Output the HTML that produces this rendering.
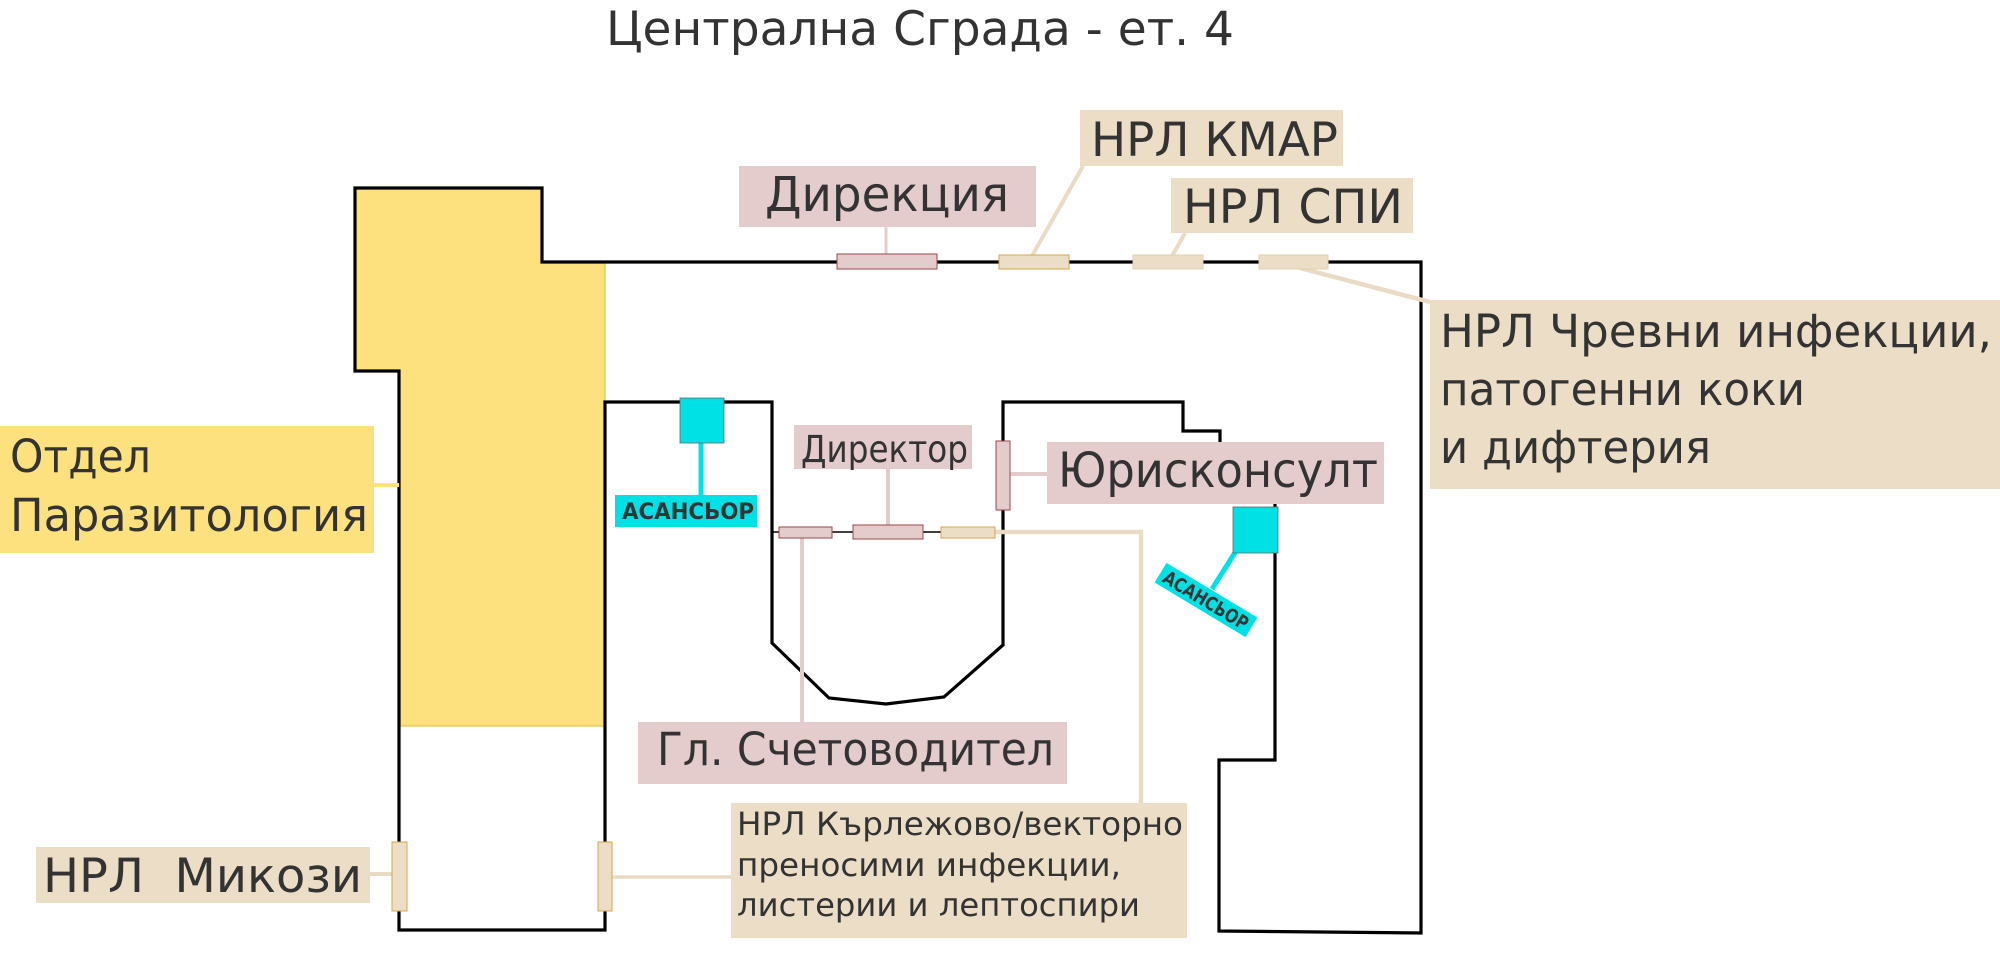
<!DOCTYPE html>
<html>
<head>
<meta charset="utf-8">
<style>
html,body{margin:0;padding:0;background:#fff;}
svg{display:block;}
text{font-family:"DejaVu Sans","Liberation Sans",sans-serif;fill:#333333;}
</style>
</head>
<body>
<svg width="2000" height="967" viewBox="0 0 2000 967" xmlns="http://www.w3.org/2000/svg">
<rect x="0" y="0" width="2000" height="967" fill="#ffffff"/>

<!-- Title -->
<text x="606" y="45" font-size="47" textLength="628" lengthAdjust="spacingAndGlyphs">Централна Сграда - ет. 4</text>

<!-- Yellow area -->
<polygon points="355,188 542,188 542,262 605,262 605,726 399,726 399,371 355,371" fill="#fde17f"/>
<line x1="605" y1="262" x2="605" y2="402" stroke="#e2c64a" stroke-width="1.2"/>
<line x1="399" y1="726" x2="605" y2="726" stroke="#e2c64a" stroke-width="1.2"/>

<!-- Walls -->
<path d="M355,188 L542,188 L542,262 L1421,262 L1421,933 L1219,931 L1219,760 L1275,760 L1275,480 L1220,480 L1220,431 L1183,431 L1183,402 L1003,402 L1003,645 L944,697 L886,704 L829,698 L772,643 L772,402 L605,402 L605,930 L399,930 L399,371 L355,371 Z" fill="none" stroke="#000" stroke-width="3.2" stroke-linejoin="miter"/>

<!-- inner thin line -->
<line x1="772" y1="532" x2="1003" y2="532" stroke="#000" stroke-width="1.5"/>

<!-- Connectors -->
<line x1="886" y1="227" x2="886" y2="254" stroke="#e4cbcc" stroke-width="3"/>
<line x1="1032" y1="256" x2="1083" y2="166" stroke="#eadcc4" stroke-width="4"/>
<line x1="1172" y1="256" x2="1185" y2="233" stroke="#eadcc4" stroke-width="4"/>
<line x1="1300" y1="268" x2="1430" y2="302" stroke="#eadcc4" stroke-width="4.5"/>
<line x1="888" y1="469" x2="888" y2="525" stroke="#e4cbcc" stroke-width="4"/>
<line x1="1010" y1="474" x2="1047" y2="474" stroke="#e4cbcc" stroke-width="4"/>
<line x1="802" y1="538" x2="802" y2="722" stroke="#e4cbcc" stroke-width="4"/>
<polyline points="995,532 1141,532 1141,803" fill="none" stroke="#eadcc4" stroke-width="4.5"/>
<line x1="374" y1="485" x2="399" y2="485" stroke="#fde17f" stroke-width="4"/>
<line x1="370" y1="874" x2="392" y2="874" stroke="#eadcc4" stroke-width="4"/>
<line x1="612" y1="877" x2="731" y2="877" stroke="#eadcc4" stroke-width="3.5"/>
<line x1="701" y1="443" x2="701" y2="495" stroke="#00e1e6" stroke-width="5"/>
<line x1="1236" y1="551" x2="1212" y2="589" stroke="#00e1e6" stroke-width="5"/>

<!-- Doors -->
<rect x="837" y="254" width="100" height="15" fill="#e4cbcc" stroke="#9b4a4a" stroke-width="1"/>
<rect x="999" y="255" width="70" height="14" fill="#ecdec6" stroke="#d9a54a" stroke-width="1"/>
<rect x="1133" y="255" width="70" height="14" fill="#ecdec6" stroke="#e2cfae" stroke-width="1"/>
<rect x="1259" y="255" width="69" height="14" fill="#ecdec6" stroke="#e2cfae" stroke-width="1"/>
<rect x="779" y="527" width="53" height="11" fill="#e4cbcc" stroke="#9b4a4a" stroke-width="1"/>
<rect x="853" y="525" width="70" height="14" fill="#e4cbcc" stroke="#9b4a4a" stroke-width="1"/>
<rect x="941" y="527" width="54" height="11" fill="#ecdec6" stroke="#d9a54a" stroke-width="1"/>
<rect x="996" y="441" width="14" height="69" fill="#e4cbcc" stroke="#9b4a4a" stroke-width="1"/>
<rect x="392" y="842" width="15" height="69" fill="#ecdec6" stroke="#d9a54a" stroke-width="1"/>
<rect x="598" y="842" width="14" height="69" fill="#ecdec6" stroke="#d9a54a" stroke-width="1"/>

<!-- Elevators -->
<rect x="680" y="398" width="44" height="45" fill="#00e1e6" stroke="#666" stroke-width="0.8"/>
<rect x="1233" y="507" width="45" height="46" fill="#00e1e6" stroke="#666" stroke-width="0.8"/>

<!-- Labels -->
<rect x="739" y="166" width="297" height="61" fill="#e4cbcc"/>
<text x="765" y="211" font-size="48" textLength="244" lengthAdjust="spacingAndGlyphs">Дирекция</text>

<rect x="1080" y="110" width="263" height="56" fill="#ecdec6"/>
<text x="1091" y="156" font-size="47" textLength="247" lengthAdjust="spacingAndGlyphs">НРЛ КМАР</text>

<rect x="1171" y="178" width="242" height="55" fill="#ecdec6"/>
<text x="1183" y="223" font-size="47" textLength="220" lengthAdjust="spacingAndGlyphs">НРЛ СПИ</text>

<rect x="1430" y="300" width="570" height="189" fill="#ecdec6"/>
<text x="1440" y="347" font-size="45" textLength="552" lengthAdjust="spacingAndGlyphs">НРЛ Чревни инфекции,</text>
<text x="1440" y="405" font-size="45" textLength="365" lengthAdjust="spacingAndGlyphs">патогенни коки</text>
<text x="1440" y="463" font-size="45" textLength="271" lengthAdjust="spacingAndGlyphs">и дифтерия</text>

<rect x="0" y="426" width="374" height="127" fill="#fde17f"/>
<text x="10" y="472" font-size="45" textLength="141" lengthAdjust="spacingAndGlyphs">Отдел</text>
<text x="10" y="531" font-size="45" textLength="358" lengthAdjust="spacingAndGlyphs">Паразитология</text>

<rect x="794" y="425" width="178" height="44" fill="#e4cbcc"/>
<text x="801" y="462" font-size="37" textLength="167" lengthAdjust="spacingAndGlyphs">Директор</text>

<rect x="1047" y="442" width="337" height="62" fill="#e4cbcc"/>
<text x="1058" y="487" font-size="48" textLength="320" lengthAdjust="spacingAndGlyphs">Юрисконсулт</text>

<rect x="615" y="495" width="142" height="32" fill="#00e1e6"/>
<text x="622" y="519" font-size="22" font-weight="bold" textLength="132" lengthAdjust="spacingAndGlyphs">АСАНСЬОР</text>

<g transform="translate(1206,600) rotate(31)">
<rect x="-53" y="-11.5" width="106" height="23" fill="#00e1e6"/>
<text x="-48" y="7" font-size="19" font-weight="bold" textLength="96" lengthAdjust="spacingAndGlyphs">АСАНСЬОР</text>
</g>

<rect x="638" y="722" width="429" height="62" fill="#e4cbcc"/>
<text x="657" y="765" font-size="45" textLength="397" lengthAdjust="spacingAndGlyphs">Гл. Счетоводител</text>

<rect x="36" y="847" width="334" height="56" fill="#ecdec6"/>
<text x="43" y="892" font-size="47" textLength="319" lengthAdjust="spacingAndGlyphs" xml:space="preserve">НРЛ  Микози</text>

<rect x="731" y="803" width="456" height="135" fill="#ecdec6"/>
<text x="737" y="835" font-size="32" textLength="446" lengthAdjust="spacingAndGlyphs">НРЛ Кърлежово/векторно</text>
<text x="737" y="876" font-size="32" textLength="384" lengthAdjust="spacingAndGlyphs">преносими инфекции,</text>
<text x="737" y="916" font-size="32" textLength="403" lengthAdjust="spacingAndGlyphs">листерии и лептоспири</text>
</svg>
</body>
</html>
